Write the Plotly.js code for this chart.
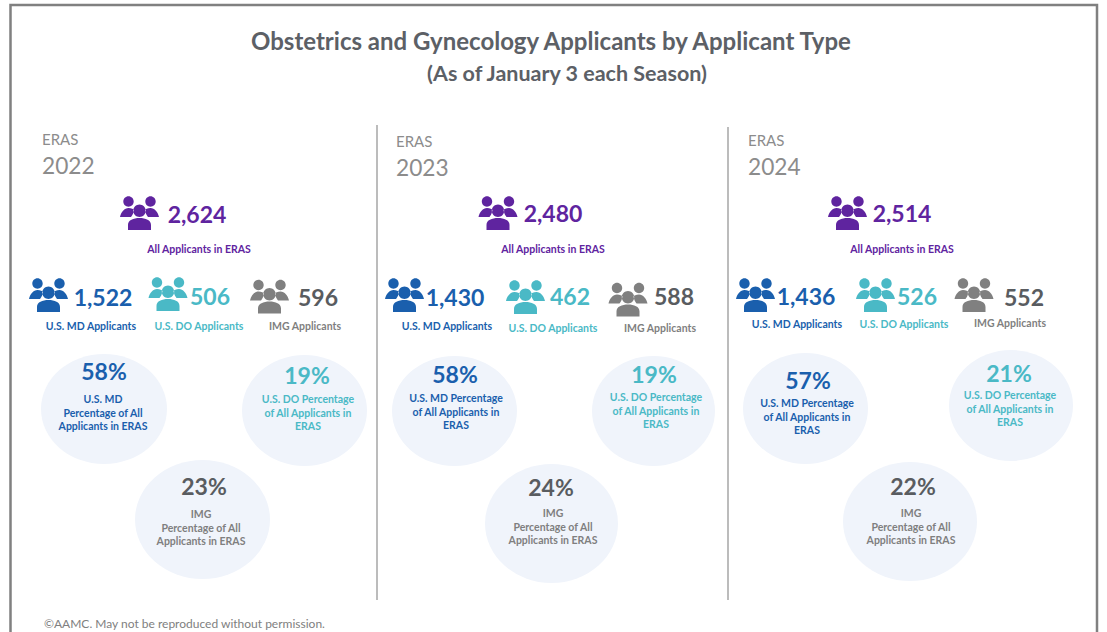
<!DOCTYPE html>
<html><head><meta charset="utf-8">
<script src="https://cdn.plot.ly/plotly-3.0.1.min.js"></script>
<style>html,body{margin:0;padding:0;background:#fff}#c{width:1107px;height:632px}</style>
</head><body><div id="c"></div>
<script>
// ---- values ----
const titleText = "Obstetrics and Gynecology Applicants by Applicant Type";
const subtitleText = "(As of January 3 each Season)";
const footerText = "©AAMC. May not be reproduced without permission.";
const seasons = ["2022", "2023", "2024"];
const allApplicants = [2624, 2480, 2514];
const mdApplicants = [1522, 1430, 1436];
const doApplicants = [506, 462, 526];
const imgApplicants = [596, 588, 552];
const mdPercent = [58, 58, 57];
const doPercent = [19, 19, 21];
const imgPercent = [23, 24, 22];
const allLabel = "All Applicants in ERAS";
const mdLabel = "U.S. MD Applicants";
const doLabel = "U.S. DO Applicants";
const imgLabel = "IMG Applicants";
const mdPctLabels = ["U.S. MD<br>Percentage of All<br>Applicants in ERAS", "U.S. MD Percentage<br>of All Applicants in<br>ERAS", "U.S. MD Percentage<br>of All Applicants in<br>ERAS"];
const doPctLabels = ["U.S. DO Percentage<br>of All Applicants in<br>ERAS", "U.S. DO Percentage<br>of All Applicants in<br>ERAS", "U.S. DO Percentage<br>of All Applicants in<br>ERAS"];
const imgPctLabels = ["IMG<br>Percentage of All<br>Applicants in ERAS", "IMG<br>Percentage of All<br>Applicants in ERAS", "IMG<br>Percentage of All<br>Applicants in ERAS"];

// ---- placement (canvas units = pixels of the picture) ----
const eras = {x: [42, 396, 748], y1: [141, 143, 142], y2: [168, 170, 169]};
const allPos = {icon: [[139.5, 213], [498, 213], [847.5, 213]], num: [[197, 217], [553, 216], [902, 216]], lab: [[199, 250], [553, 250], [902, 250]]};
const mdPos = {icon: [[48.5, 295], [404.5, 295], [755.5, 295]], num: [[103, 300], [455, 300], [806, 299]], lab: [[91, 327], [447, 327], [797, 325]]};
const doPos = {icon: [[168, 294], [525.5, 297], [875.5, 295]], num: [[210, 299], [570, 299], [917, 299]], lab: [[199, 327], [553, 329], [904, 325]]};
const imgPos = {icon: [[269.5, 296.5], [628, 299.5], [974, 295]], num: [[318, 300], [674, 299], [1024, 300]], lab: [[305, 327], [660, 329], [1010, 324]]};
const mdEll = [[41, 167, 354, 464], [392, 517, 356, 466], [743, 868, 353, 464]];
const doEll = [[242, 367, 355, 466], [592, 715, 356, 466], [949, 1073, 350, 461]];
const imgEll = [[135, 270, 460, 579], [485, 618, 464, 583], [843, 977, 462, 581]];
const mdPct = {p: [[104, 374], [455, 377], [808, 383]], t: [[103, 414], [456, 413], [807, 418]]};
const doPct = {p: [[307, 378], [654, 377], [1009, 376]], t: [[308, 414], [656, 412], [1010, 410]]};
const imgPct = {p: [[204, 489], [551, 490], [913, 489]], t: [[201, 529], [553, 528], [911, 528]]};

const PURPLE = "#5f249f", BLUE = "#1a5fad", TEAL = "#4ab9c6", DARK = "#595c60", GREY = "#808080", LABGREY = "#7f7f7f";
const FONT = "Lato, Carlito, Calibri, sans-serif";
const fmt = n => n.toLocaleString("en-US");

function textTrace(pts, texts, size, color, bold, align) {
  return {
    type: "scatter", mode: "text", x: pts.map(p => p[0]), y: pts.map(p => p[1]), text: texts,
    textposition: align || "middle center", cliponaxis: false, hoverinfo: "skip", showlegend: false,
    textfont: {family: FONT, size: size, color: color, weight: bold ? 700 : 400}
  };
}
const pairs = (xs, ys) => xs.map((x, i) => [x, ys[i]]);
const pct = a => a.map(v => v + "%");
const rep = (s) => seasons.map(() => s);
const NUM = 23, LAB = 10.5;

const data = [
  textTrace([[551, 44]], [titleText], 24, "#5c6066", true),
  textTrace([[567, 76]], [subtitleText], 21.5, "#5c6066", true),
  textTrace(pairs(eras.x, eras.y1), rep("ERAS"), 15, "#8c8c8c", false, "middle right"),
  textTrace(pairs(eras.x, eras.y2), seasons, 22.7, "#8c8c8c", false, "middle right"),
  textTrace(allPos.num, allApplicants.map(fmt), NUM, PURPLE, true),
  textTrace(allPos.lab, rep(allLabel), LAB, PURPLE, true),
  textTrace(mdPos.num, mdApplicants.map(fmt), NUM, BLUE, true),
  textTrace(mdPos.lab, rep(mdLabel), LAB, BLUE, true),
  textTrace(doPos.num, doApplicants.map(fmt), NUM, TEAL, true),
  textTrace(doPos.lab, rep(doLabel), LAB, TEAL, true),
  textTrace(imgPos.num, imgApplicants.map(fmt), NUM, DARK, true),
  textTrace(imgPos.lab, rep(imgLabel), LAB, LABGREY, true),
  textTrace(mdPct.p, pct(mdPercent), NUM, BLUE, true),
  textTrace(mdPct.t, mdPctLabels, LAB, BLUE, true),
  textTrace(doPct.p, pct(doPercent), NUM, TEAL, true),
  textTrace(doPct.t, doPctLabels, LAB, TEAL, true),
  textTrace(imgPct.p, pct(imgPercent), NUM, DARK, true),
  textTrace(imgPct.t, imgPctLabels, LAB, LABGREY, true),
  textTrace([[44, 625]], [footerText], 12, "#808080", false, "middle right")
];

// ---- three-people pictogram, in pixels around an anchor (y written downward) ----
const P = (x, y) => x + " " + (-y);
function disc(cx, cy, r) {
  const k = 0.5523 * r;
  return "M" + P(cx - r, cy) +
    "C" + P(cx - r, cy - k) + " " + P(cx - k, cy - r) + " " + P(cx, cy - r) +
    "C" + P(cx + k, cy - r) + " " + P(cx + r, cy - k) + " " + P(cx + r, cy) +
    "C" + P(cx + r, cy + k) + " " + P(cx + k, cy + r) + " " + P(cx, cy + r) +
    "C" + P(cx - k, cy + r) + " " + P(cx - r, cy + k) + " " + P(cx - r, cy) + "Z";
}
function sideBody(m) {
  return "M" + P(m * 19.5, 4) +
    "C" + P(m * 18.5, -1) + " " + P(m * 15, -5) + " " + P(m * 11, -5) +
    "C" + P(m * 8, -5) + " " + P(m * 6, -4) + " " + P(m * 5.5, -3) +
    "C" + P(m * 6, 0) + " " + P(m * 7, 2) + " " + P(m * 8.5, 4) + "Z";
}
const midBody = "M" + P(-11.5, 17) + "L" + P(-11.5, 12) +
  "C" + P(-11.5, 7) + " " + P(-6, 5) + " " + P(0, 5) +
  "C" + P(6, 5) + " " + P(11.5, 7) + " " + P(11.5, 12) + "L" + P(11.5, 17) + "Z";
const peoplePath = [disc(-11, -11.5, 5.2), disc(11, -11.5, 5.2), disc(0, -2.2, 6.2), sideBody(-1), sideBody(1), midBody].join(" ");

const iconShape = (pos, color) => ({
  type: "path", xref: "x", yref: "y", xsizemode: "pixel", ysizemode: "pixel",
  xanchor: pos[0], yanchor: pos[1], path: peoplePath, fillcolor: color, line: {width: 0}, layer: "above"
});
const ellipse = e => ({
  type: "circle", xref: "x", yref: "y", x0: e[0], x1: e[1], y0: e[2], y1: e[3],
  fillcolor: "#f0f4fb", line: {width: 0}, layer: "below"
});
const vline = (x, y0, y1) => ({type: "line", xref: "x", yref: "y", x0: x, x1: x, y0: y0, y1: y1, line: {color: "#a6a6a6", width: 1.5}, layer: "below"});

const shapes = [
  {type: "rect", xref: "x", yref: "y", x0: 10.5, x1: 1097, y0: 5, y1: 660, line: {color: "#808080", width: 2.5}, fillcolor: "rgba(0,0,0,0)", layer: "below"},
  vline(377, 125, 600), vline(728, 127, 600),
  ...mdEll.map(ellipse), ...doEll.map(ellipse), ...imgEll.map(ellipse),
  ...allPos.icon.map(p => iconShape(p, PURPLE)),
  ...mdPos.icon.map(p => iconShape(p, BLUE)),
  ...doPos.icon.map(p => iconShape(p, TEAL)),
  ...imgPos.icon.map(p => iconShape(p, GREY))
];

const hidden = {visible: false, fixedrange: true, zeroline: false, showgrid: false};
const layout = {
  width: 1107, height: 632, margin: {l: 0, r: 0, t: 0, b: 0},
  paper_bgcolor: "#fff", plot_bgcolor: "#fff", showlegend: false, hovermode: false,
  xaxis: {...hidden, range: [0, 1107]},
  yaxis: {...hidden, range: [632, 0]},
  shapes: shapes
};
Plotly.newPlot("c", data, layout, {displayModeBar: false, staticPlot: true});
</script>
</body></html>
